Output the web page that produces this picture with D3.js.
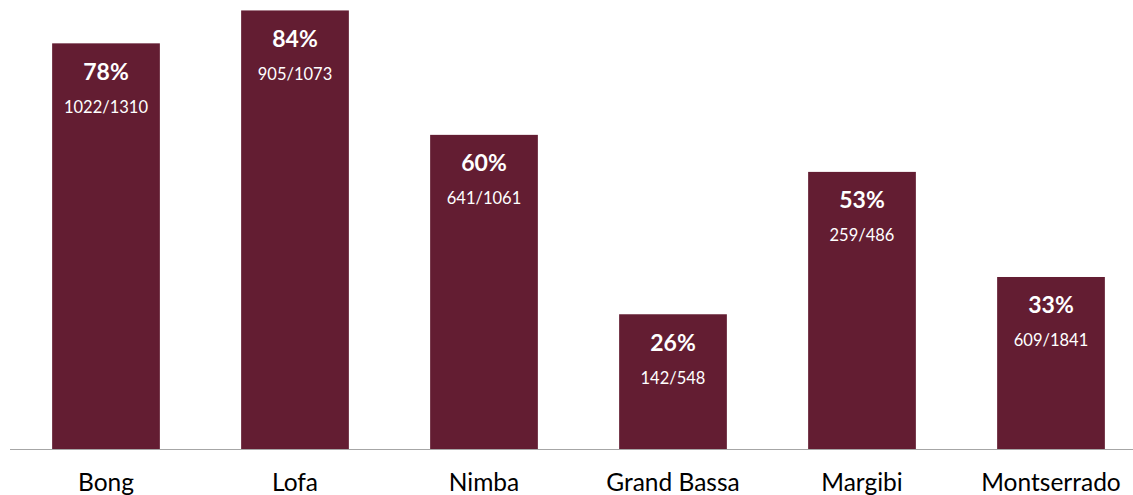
<!DOCTYPE html>
<html>
<head>
<meta charset="utf-8">
<script src="https://cdn.jsdelivr.net/npm/d3@7"></script>
<style>
  html, body { margin: 0; padding: 0; background: #ffffff; }
  svg { display: block; }
  text { font-family: "Lato", "Open Sans", sans-serif; }
</style>
</head>
<body>
<svg id="chart" width="1133" height="495"></svg>
<script>
const categories = ["Bong", "Lofa", "Nimba", "Grand Bassa", "Margibi", "Montserrado"];
const numerators = [1022, 905, 641, 142, 259, 609];
const denominators = [1310, 1073, 1061, 548, 486, 1841];
const percentLabels = ["78%", "84%", "60%", "26%", "53%", "33%"];

const data = categories.map((c, i) => ({
  cat: c,
  num: numerators[i],
  den: denominators[i],
  value: numerators[i] / denominators[i],
  pct: percentLabels[i]
}));

const svg = d3.select("#chart");
const baseY = 449;

const x = d3.scaleBand()
  .domain(categories)
  .range([11.5, 1145.5])
  .paddingInner(0.43)
  .paddingOuter(0.215);

const y = d3.scaleLinear()
  .domain([0, 0.8635])
  .range([baseY, 0]);

const barColor = "#631d32";

svg.append("g").selectAll("rect")
  .data(data)
  .join("rect")
  .attr("x", d => x(d.cat))
  .attr("y", d => y(d.value))
  .attr("width", x.bandwidth())
  .attr("height", d => baseY - y(d.value))
  .attr("fill", barColor);

// axis line
svg.append("line")
  .attr("x1", 10).attr("x2", 1133)
  .attr("y1", baseY + 0.5).attr("y2", baseY + 0.5)
  .attr("stroke", "#a6a6a6")
  .attr("stroke-width", 1.2);

// percent labels
svg.append("g").selectAll("text")
  .data(data)
  .join("text")
  .attr("x", d => x(d.cat) + x.bandwidth() / 2)
  .attr("y", d => y(d.value) + 36.5)
  .attr("text-anchor", "middle")
  .attr("fill", "#ffffff")
  .attr("font-weight", "bold")
  .attr("font-size", "23px")
  .text(d => d.pct);

// fraction labels
svg.append("g").selectAll("text")
  .data(data)
  .join("text")
  .attr("x", d => x(d.cat) + x.bandwidth() / 2)
  .attr("y", d => y(d.value) + 69.5)
  .attr("text-anchor", "middle")
  .attr("fill", "#ffffff")
  .attr("font-size", "16.5px")
  .text(d => d.num + "/" + d.den);

// category labels
svg.append("g").selectAll("text")
  .data(data)
  .join("text")
  .attr("x", d => x(d.cat) + x.bandwidth() / 2)
  .attr("y", 491)
  .attr("text-anchor", "middle")
  .attr("fill", "#000000")
  .attr("font-size", "24.5px")
  .text(d => d.cat);
</script>
</body>
</html>
